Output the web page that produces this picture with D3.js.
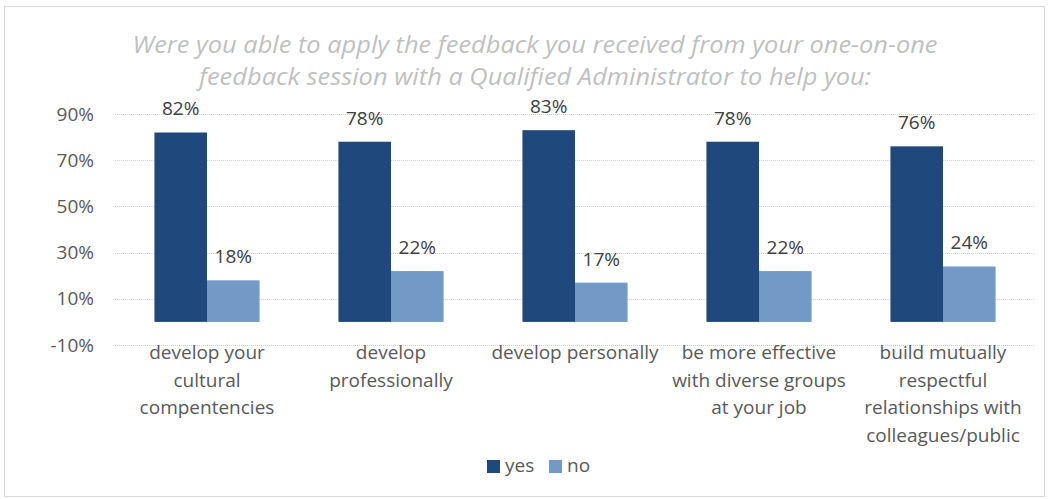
<!DOCTYPE html>
<html><head><meta charset="utf-8">
<script src="https://cdn.jsdelivr.net/npm/d3@7"></script>
<style>body{margin:0;background:#fff}svg{display:block}text{font-family:"Open Sans","Noto Sans",sans-serif}</style>
</head><body>
<script>
const categories = [
  "develop your\ncultural\ncompentencies",
  "develop\nprofessionally",
  "develop personally",
  "be more effective\nwith diverse groups\nat your job",
  "build mutually\nrespectful\nrelationships with\ncolleagues/public"
];
const series = ["yes", "no"];
const yesValues = [82, 78, 83, 78, 76];
const noValues = [18, 22, 17, 22, 24];
const yTicks = [-10, 10, 30, 50, 70, 90];
const titleLines = ["Were you able to apply the feedback you received from your one-on-one",
                    "feedback session with a Qualified Administrator to help you:"];
const colors = {yes: "#1f497d", no: "#7399c6"};

const W = 1050, H = 499;
const svg = d3.select("body").append("svg").attr("width", W).attr("height", H);
svg.append("rect").attr("x", 4.5).attr("y", 6.5).attr("width", 1040).attr("height", 490)
  .attr("fill", "#fff").attr("stroke", "#d9d9d9");

const x0 = d3.scaleBand().domain(d3.range(categories.length)).range([115, 1035]).paddingInner(0).paddingOuter(0);
const x1 = d3.scaleBand().domain(series).range([0, x0.bandwidth()]).paddingInner(0).paddingOuter(0.75);
const y = d3.scaleLinear().domain([-10, 90]).range([345, 114]);

// title
const titleW = [805, 672];
svg.append("g").selectAll("text").data(titleLines).join("text")
  .attr("x", 535).attr("y", (d, i) => 53 + i * 32)
  .attr("text-anchor", "middle").attr("font-style", "italic")
  .attr("font-size", 23).attr("fill", "#bfbfbf")
  .attr("textLength", (d, i) => titleW[i]).attr("lengthAdjust", "spacingAndGlyphs")
  .text(d => d);

// gridlines
svg.append("g").selectAll("line").data(yTicks).join("line")
  .attr("x1", 115).attr("x2", 1035).attr("y1", d => Math.round(y(d)) + 0.5).attr("y2", d => Math.round(y(d)) + 0.5)
  .attr("stroke", "#d0d0d0").attr("stroke-dasharray", "1,1");

// y axis
const yAxis = d3.axisLeft(y).tickValues(yTicks).tickFormat(d => d + "%").tickSize(0).tickPadding(0);
const ya = svg.append("g").attr("transform", "translate(94,0)").call(yAxis);
ya.select(".domain").remove();
ya.selectAll("text").attr("font-size", 19).attr("fill", "#595959").attr("font-family", '"Open Sans",sans-serif');

// bars
const data = categories.map((c, i) => ({i, values: [{k: "yes", v: yesValues[i]}, {k: "no", v: noValues[i]}]}));
const g = svg.append("g").selectAll("g").data(data).join("g")
  .attr("transform", d => `translate(${x0(d.i)},0)`);
g.selectAll("rect").data(d => d.values).join("rect")
  .attr("x", d => x1(d.k)).attr("width", x1.bandwidth())
  .attr("y", d => y(d.v)).attr("height", d => y(0) - y(d.v))
  .attr("fill", d => colors[d.k]);
g.selectAll("text").data(d => d.values).join("text")
  .attr("x", d => x1(d.k) + x1.bandwidth() / 2).attr("y", d => y(d.v) - 17)
  .attr("text-anchor", "middle").attr("font-size", 19).attr("fill", "#404040")
  .text(d => d.v + "%");

// category labels
const cl = svg.append("g").selectAll("text").data(categories).join("text")
  .attr("text-anchor", "middle").attr("font-size", 19).attr("fill", "#595959");
cl.each(function(d, i) {
  const t = d3.select(this);
  d.split("\n").forEach((line, j) => {
    t.append("tspan").attr("x", x0(i) + x0.bandwidth() / 2).attr("y", 359 + j * 27.5).text(line);
  });
});

// legend
const leg = svg.append("g");
const legX = [487, 549];
series.forEach((s, i) => {
  leg.append("rect").attr("x", legX[i]).attr("y", 460).attr("width", 13).attr("height", 13).attr("fill", colors[s]);
  leg.append("text").attr("x", legX[i] + 18).attr("y", 472).attr("font-size", 19).attr("fill", "#595959").text(s);
});
</script>
</body></html>
